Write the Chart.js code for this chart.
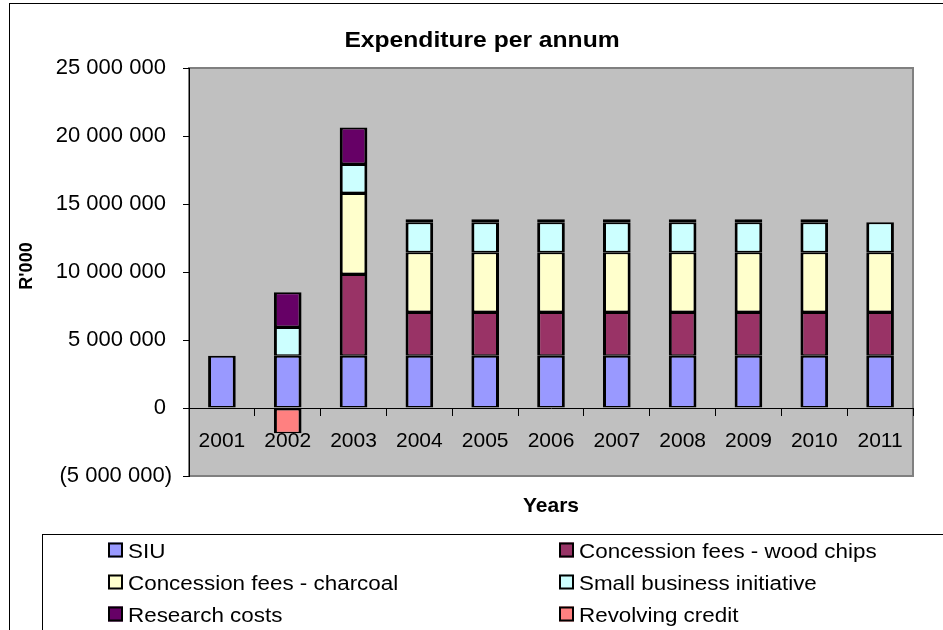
<!DOCTYPE html>
<html>
<head>
<meta charset="utf-8">
<title>Expenditure per annum</title>
<script src="https://cdn.jsdelivr.net/npm/chart.js@4.4.0/dist/chart.umd.min.js"></script>
<style>
  html, body { margin: 0; padding: 0; background: #fff; }
  #wrap { width: 943px; height: 630px; position: relative; }
</style>
</head>
<body>
<div id="wrap"><canvas id="bar-chart"></canvas></div>
<script>
// Values (R'000)
const years = ['2001', '2002', '2003', '2004', '2005', '2006', '2007', '2008', '2009', '2010', '2011'];
const siu = [3850000, 3850000, 3850000, 3850000, 3850000, 3850000, 3850000, 3850000, 3850000, 3850000, 3850000];
const woodChips = [null, null, 6000000, 3200000, 3200000, 3200000, 3200000, 3200000, 3200000, 3200000, 3200000];
const charcoal = [null, null, 5950000, 4400000, 4400000, 4400000, 4400000, 4400000, 4400000, 4400000, 4400000];
const smallBusiness = [null, 2100000, 2150000, 2200000, 2200000, 2200000, 2200000, 2200000, 2200000, 2200000, 2200000];
const research = [null, 2570000, 2670000, 220000, 220000, 220000, 220000, 220000, 220000, 220000, null];
const revolvingCredit = [null, -1850000, null, null, null, null, null, null, null, null, null];
const yTicks = [-5000000, 0, 5000000, 10000000, 15000000, 20000000, 25000000];

const FONT = '"Liberation Sans", Arial, sans-serif';

// 25000000 -> "25 000 000", negatives in brackets like the spreadsheet
function fmt(v) {
    const s = Math.abs(v).toString().replace(/\B(?=(\d{3})+(?!\d))/g, ' ');
    if (v < 0) return '(' + s + ')';
    return v === 0 ? '0 ' : s + ' ';
}

function series(label, data, color) {
    return {
        label: label,
        data: data,
        backgroundColor: color,
        borderColor: '#000',
        borderWidth: { top: 2, bottom: 1.5, left: 3, right: 3 },
        borderSkipped: false,
        barPercentage: 0.42,
        categoryPercentage: 1
    };
}

// draw text stretched sideways like the original export
function wideText(ctx, text, x, y, sx) {
    ctx.save();
    ctx.translate(x, y);
    ctx.scale(sx, 1);
    ctx.fillText(text, 0, 0);
    ctx.restore();
}

const decor = {
    id: 'decor',
    beforeDraw(chart) {
        const { ctx, chartArea: a } = chart;
        ctx.save();
        ctx.fillStyle = '#fff';
        ctx.fillRect(0, 0, chart.width, chart.height);
        ctx.fillStyle = '#c0c0c0';
        ctx.fillRect(a.left, a.top, a.right - a.left, a.bottom - a.top);
        ctx.strokeStyle = '#808080';
        ctx.lineWidth = 2;
        ctx.strokeRect(a.left, a.top, a.right - a.left, a.bottom - a.top);
        ctx.restore();
    },
    afterDraw(chart) {
        const { ctx, chartArea: a } = chart;
        ctx.save();
        // outer chart border and legend box (both run off the page)
        ctx.strokeStyle = '#000';
        ctx.lineWidth = 1;
        ctx.strokeRect(9.5, 3.5, 1200, 1200);
        ctx.strokeRect(42.5, 534.5, 1200, 300);

        ctx.fillStyle = '#000';
        ctx.textBaseline = 'alphabetic';
        ctx.textAlign = 'center';
        ctx.font = 'bold 22px ' + FONT;
        wideText(ctx, 'Expenditure per annum', 482, 47, 1.12);
        ctx.font = 'bold 21px ' + FONT;
        ctx.fillText('Years', (a.left + a.right) / 2, 512);

        ctx.save();
        ctx.translate(26, 266);
        ctx.rotate(-Math.PI / 2);
        ctx.font = 'bold 18px ' + FONT;
        ctx.fillText("R'000", 0, 6.4);
        ctx.restore();

        // legend, two columns
        const colX = [108, 559];
        const rowY = [550, 582, 614];
        ctx.textAlign = 'left';
        ctx.font = '20px ' + FONT;
        chart.data.datasets.forEach((ds, i) => {
            const x = colX[i % 2];
            const y = rowY[Math.floor(i / 2)];
            ctx.fillStyle = ds.backgroundColor;
            ctx.fillRect(x, y - 7.5, 15, 15);
            ctx.strokeStyle = '#000';
            ctx.lineWidth = 2;
            ctx.strokeRect(x + 1, y - 6.5, 13, 13);
            ctx.fillStyle = '#000';
            wideText(ctx, ds.label, x + 20, y + 7.5, 1.12);
        });
        ctx.restore();
    }
};

const ctx = document.getElementById('bar-chart').getContext('2d');
const myChart = new Chart(ctx, {
    type: 'bar',
    data: {
        labels: years,
        datasets: [
            series('SIU', siu, '#9999ff'),
            series('Concession fees - wood chips', woodChips, '#993366'),
            series('Concession fees - charcoal', charcoal, '#ffffcc'),
            series('Small business initiative', smallBusiness, '#ccffff'),
            series('Research costs', research, '#660066'),
            series('Revolving credit', revolvingCredit, '#ff8080')
        ]
    },
    options: {
        responsive: true,
        maintainAspectRatio: false,
        animation: false,
        layout: { padding: { left: 0, top: 68, right: 30, bottom: 154 } },
        plugins: {
            legend: { display: false },
            title: { display: false },
            tooltip: { enabled: false }
        },
        scales: {
            x: {
                stacked: true,
                position: { y: 0 },
                offset: true,
                grid: { display: true, drawOnChartArea: false, drawTicks: true, tickLength: 7, color: '#000', offset: true },
                border: { display: true, color: '#000', width: 1 },
                ticks: { color: '#000', font: { family: FONT, size: 21 }, padding: 14, maxRotation: 0, autoSkip: false }
            },
            y: {
                stacked: true,
                min: -5000000,
                max: 25000000,
                afterBuildTicks: (scale) => { scale.ticks = yTicks.map(v => ({ value: v })); },
                afterFit: (scale) => { scale.width = 189; },
                grid: { drawOnChartArea: false, drawTicks: true, tickLength: 6, color: '#000' },
                border: { display: true, color: '#000', width: 1 },
                ticks: { color: '#000', font: { family: FONT, size: 22 }, padding: 11, callback: (v) => fmt(v) }
            }
        }
    },
    plugins: [decor]
});
</script>
</body>
</html>
